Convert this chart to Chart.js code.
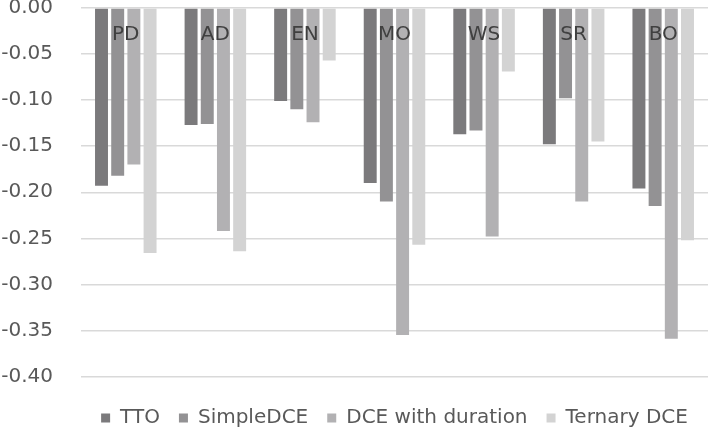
<!DOCTYPE html>
<html>
<head>
<meta charset="utf-8">
<script src="https://cdn.jsdelivr.net/npm/chart.js@4/dist/chart.umd.min.js"></script>
<style>
html,body{margin:0;padding:0;overflow:hidden;background:#fff;}
#wrap{width:708px;height:430px;overflow:hidden;}
</style>
</head>
<body>
<div id="wrap"><canvas id="c" width="708" height="438"></canvas></div>
<script>
const categories = ["PD", "AD", "EN", "MO", "WS", "SR", "BO"];
const seriesNames = ["TTO", "SimpleDCE", "DCE with duration", "Ternary DCE"];
const tto       = [-0.193, -0.127, -0.101, -0.190, -0.137, -0.148, -0.196];
const simpleDCE = [-0.182, -0.126, -0.110, -0.210, -0.133, -0.098, -0.215];
const dceDur    = [-0.170, -0.242, -0.124, -0.355, -0.248, -0.210, -0.359];
const ternary   = [-0.266, -0.264, -0.057, -0.257, -0.069, -0.145, -0.252];
const colors = ["#7b7a7c", "#939294", "#b2b1b3", "#d3d3d3"];
const yTicks = { min: -0.40, max: 0.00, step: 0.05 };

const allSeries = [tto, simpleDCE, dceDur, ternary];
new Chart(document.getElementById('c'), {
  type: 'bar',
  data: {
    labels: categories,
    datasets: allSeries.map((d, i) => ({
      label: seriesNames[i],
      data: d,
      backgroundColor: colors[i],
      borderWidth: 0,
      categoryPercentage: 0.723,
      barPercentage: 0.80
    }))
  },
  options: {
    responsive: false,
    animation: false,
    layout: { padding: 0 },
    scales: {
      y: {
        min: yTicks.min, max: yTicks.max,
        border: { display: false },
        grid: { color: '#d9d9d9', lineWidth: 1.5, drawTicks: true, tickLength: 28, tickColor: 'rgba(0,0,0,0)' },
        afterFit: (s) => { s.width = 81; },
        ticks: {
          stepSize: yTicks.step,
          padding: 0,
          color: '#595959',
          font: { family: 'DejaVu Sans', size: 20, lineHeight: 0.8 },
          callback: (v) => Number(v).toFixed(2)
        }
      },
      x: {
        position: { y: 0 },
        border: { display: false },
        grid: { display: false, drawTicks: false },
        ticks: {
          z: 2,
          padding: 15,
          color: '#404040',
          font: { family: 'DejaVu Sans', size: 20 }
        }
      }
    },
    plugins: {
      tooltip: { enabled: false },
      legend: {
        position: 'bottom',
        fullSize: false,
        title: { display: true, text: ' ', font: { size: 1, lineHeight: 1 }, padding: { top: 11.5, bottom: 0 } },
        labels: {
          boxWidth: 9, boxHeight: 9, padding: 19,
          color: '#595959',
          font: { family: 'DejaVu Sans', size: 20 }
        }
      }
    }
  }
});
</script>
</body>
</html>
